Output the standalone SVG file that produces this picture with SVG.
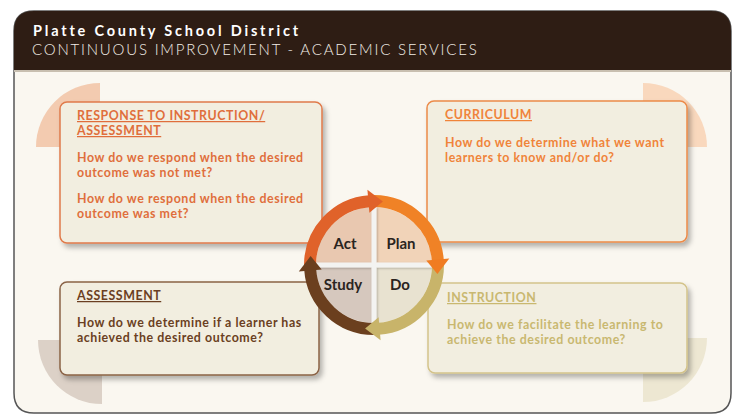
<svg xmlns="http://www.w3.org/2000/svg" width="734" height="414" viewBox="0 0 734 414">
<defs>
<style>
.t{font-family:Lato,"Open Sans","Liberation Sans",sans-serif;font-weight:bold;font-size:12.4px;letter-spacing:0.55px}
.h{text-decoration:underline}
.box{stroke-width:1.5}
.lbl{font-family:Lato,"Open Sans","Liberation Sans",sans-serif;font-weight:bold;font-size:15px;fill:#2a2420;text-anchor:middle}
.arc{fill:none;stroke-width:12}
</style>
<filter id="sh" x="-10%" y="-10%" width="125%" height="130%">
<feDropShadow dx="3" dy="4" stdDeviation="2.5" flood-color="#000" flood-opacity="0.28"/>
</filter>
<filter id="sh2" x="-20%" y="-20%" width="140%" height="140%">
<feDropShadow dx="1" dy="1" stdDeviation="1" flood-color="#000" flood-opacity="0.25"/>
</filter>
</defs>
<!-- frame -->
<g id="frame">
<path d="M14 31 Q14 11 34 11 L711 11 Q731 11 731 31 L731 393 Q731 413 711 413 L34 413 Q14 413 14 393 Z" fill="#faf7f0" stroke="#555" stroke-width="1.5"/>
<path d="M14 70 L14 31 Q14 11 34 11 L711 11 Q731 11 731 31 L731 70 Z" fill="#2e1d14"/>
<rect x="14" y="70" width="717" height="2" fill="#c8bfb0"/>
<text x="33" y="36" font-family="Lato,'Open Sans','Liberation Sans',sans-serif" font-weight="bold" font-size="14.5" letter-spacing="2.8" fill="#ffffff">Platte County School District</text>
<text x="32" y="54.5" font-family="Lato,'Open Sans','Liberation Sans',sans-serif" font-weight="300" font-size="15" letter-spacing="1.8" fill="#f2ede6">CONTINUOUS IMPROVEMENT - ACADEMIC SERVICES</text>
</g>
<!-- decorative quarter circles -->
<path d="M100 147 L36 147 A64 64 0 0 1 100 83 Z" fill="#f3cbb0"/>
<path d="M643 147 L643 83 A64 64 0 0 1 707 147 Z" fill="#f9d8bd"/>
<path d="M102 340 L102 404 A64 64 0 0 1 38 340 Z" fill="#dcd1c7"/>
<path d="M643 338 L707 338 A64 64 0 0 1 643 402 Z" fill="#ede7d2"/>

<g id="node-rti">
<rect class="box" x="60" y="102" width="262" height="141" rx="7" fill="#f2eee0" stroke="#e07a4a" filter="url(#sh)"/>
<g class="t" fill="#e06e3c">
<text class="h" x="77" y="120">RESPONSE TO INSTRUCTION/</text>
<text class="h" x="77" y="135">ASSESSMENT</text>
<text x="77" y="162">How do we respond when the desired</text>
<text x="77" y="177">outcome was not met?</text>
<text x="77" y="203">How do we respond when the desired</text>
<text x="77" y="218">outcome was met?</text>
</g>
</g>

<g id="node-curriculum">
<rect class="box" x="427" y="101" width="260" height="141" rx="7" fill="#f2eee0" stroke="#ec8a48" filter="url(#sh)"/>
<g class="t" fill="#f0843a">
<text class="h" x="445" y="119">CURRICULUM</text>
<text x="445" y="147">How do we determine what we want</text>
<text x="445" y="162">learners to know and/or do?</text>
</g>
</g>

<g id="node-assessment">
<rect class="box" x="60" y="282" width="259" height="93" rx="7" fill="#f2eee0" stroke="#8a6346" filter="url(#sh)"/>
<g class="t" fill="#6b3f22">
<text class="h" x="77" y="300">ASSESSMENT</text>
<text x="77" y="327">How do we determine if a learner has</text>
<text x="77" y="342">achieved the desired outcome?</text>
</g>
</g>

<g id="node-instruction">
<rect class="box" x="428" y="283" width="259" height="90" rx="7" fill="#f2eee0" stroke="#d3c38a" filter="url(#sh)"/>
<g class="t" fill="#c9b870">
<text class="h" x="447" y="302">INSTRUCTION</text>
<text x="447" y="329">How do we facilitate the learning to</text>
<text x="447" y="344">achieve the desired outcome?</text>
</g>
</g>

<g id="pdsa">
<path d="M374 265 L316 265 A58 58 0 0 1 374 207 Z" fill="#e9c8b0"/>
<path d="M374 265 L374 207 A58 58 0 0 1 432 265 Z" fill="#f1d3b8"/>
<path d="M374 265 L432 265 A58 58 0 0 1 374 323 Z" fill="#e8e2d0"/>
<path d="M374 265 L374 323 A58 58 0 0 1 316 265 Z" fill="#d6c8be"/>
<g filter="url(#sh2)">
<rect x="371.5" y="207" width="5" height="116" fill="#f3f3f1"/>
<rect x="316" y="262.5" width="116" height="5" fill="#f3f3f1"/>
</g>
<g id="node-act"><text class="lbl" x="345" y="249">Act</text></g>
<g id="node-plan"><text class="lbl" x="401" y="249">Plan</text></g>
<g id="node-study"><text class="lbl" x="343" y="290">Study</text></g>
<g id="node-do"><text class="lbl" x="400" y="290">Do</text></g>
</g>

<g id="connectors">
<path class="arc" d="M310 265 A64 64 0 0 1 369.5 201.2" stroke="#e0622a"/>
<path class="arc" d="M374 201 A64 64 0 0 1 437.8 260.5" stroke="#f08226"/>
<path class="arc" d="M438 265 A64 64 0 0 1 378.5 328.8" stroke="#c8b46a"/>
<path class="arc" d="M374 329 A64 64 0 0 1 310.2 269.5" stroke="#6b3f1e"/>
<polygon points="367.4,189.8 382.9,201.6 369.4,212.7" fill="#e0622a"/>
<polygon points="449.3,258.4 437.4,273.9 426.3,260.4" fill="#f07c22"/>
<polygon points="380.6,340.2 365.1,328.4 378.6,317.3" fill="#c8b46a"/>
<polygon points="298.8,271.6 310.6,256.1 321.7,269.6" fill="#6b3f1e"/>
</g>
</svg>
